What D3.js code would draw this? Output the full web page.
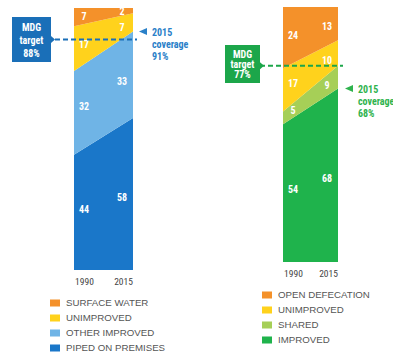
<!DOCTYPE html>
<html>
<head>
<meta charset="utf-8">
<script src="https://cdn.jsdelivr.net/npm/d3@7"></script>
<style>
  html, body { margin: 0; padding: 0; background: #fff; }
  svg { display: block; }
  .cond { font-family: "Liberation Sans Narrow", "Roboto Condensed", "Arial Narrow", "Liberation Sans", sans-serif; }
  .leg { font-family: "Liberation Sans", Arial, sans-serif; font-size: 9.7px; fill: #555; }
</style>
</head>
<body>
<svg id="chart" width="393" height="364"></svg>
<script>
// Years on the two bar edges
const years = ["1990", "2015"];

// Drinking water (percent of population)
const waterKeys = ["PIPED ON PREMISES", "OTHER IMPROVED", "UNIMPROVED", "SURFACE WATER"];
const waterColors = ["#1a77c9", "#6fb4e6", "#ffd21c", "#f4912a"];
const waterPiped = [44, 58];
const waterOther = [32, 33];
const waterUnimproved = [17, 7];
const waterSurface = [7, 2];
const waterTarget = 88;
const waterCoverage = 91;

// Sanitation (percent of population)
const sanKeys = ["IMPROVED", "SHARED", "UNIMPROVED", "OPEN DEFECATION"];
const sanColors = ["#1fb34c", "#a6cf57", "#ffd21c", "#f4912a"];
const sanImproved = [54, 68];
const sanShared = [5, 9];
const sanUnimproved = [17, 10];
const sanOpen = [24, 13];
const sanTarget = 77;
const sanCoverage = 68;

const svg = d3.select("#chart");

function drawPanel(cfg) {
  const g = svg.append("g");
  const rows = years.map((yr, i) => {
    const r = { year: yr };
    cfg.keys.forEach((k, j) => { r[k] = cfg.series[j][i]; });
    return r;
  });
  const stack = d3.stack().keys(cfg.keys)(rows);

  const x = d3.scalePoint().domain(years).range([cfg.x0, cfg.x1]);
  const y = d3.scaleLinear().domain([0, 100]).range([cfg.yBottom, cfg.yTop]);

  const area = d3.area()
    .x(d => x(d.data.year))
    .y0(d => y(d[0]))
    .y1(d => y(d[1]));

  g.selectAll("path.band").data(stack).join("path")
    .attr("class", "band")
    .attr("d", area)
    .attr("fill", (d, i) => cfg.colors[i]);

  // value labels, centred in each band at a fixed inset from the edges
  const inset = [cfg.x0 + 10, cfg.x1 - 11];
  stack.forEach(layer => {
    years.forEach((yr, i) => {
      const lx = inset[i];
      const t = (lx - cfg.x0) / (cfg.x1 - cfg.x0);
      const lo = layer[0][0] + (layer[1][0] - layer[0][0]) * t;
      const hi = layer[0][1] + (layer[1][1] - layer[0][1]) * t;
      g.append("text")
        .attr("class", "cond")
        .attr("x", lx)
        .attr("y", y((lo + hi) / 2))
        .attr("dy", "0.35em")
        .attr("text-anchor", "middle")
        .attr("font-size", 10)
        .attr("font-weight", "bold")
        .attr("fill", "#fff")
        .text(layer[i].data[layer.key]);
    });
  });

  // year labels
  const xa = d3.axisBottom(x).tickSize(0).tickPadding(0);
  const axisG = g.append("g")
    .attr("transform", `translate(0,${cfg.yearY})`)
    .call(xa);
  axisG.select(".domain").remove();
  axisG.selectAll(".tick text")
    .attr("class", "cond")
    .attr("font-size", 9.5)
    .attr("fill", "#444")
    .attr("dy", "0.35em")
    .attr("x", (d, i) => i === 0 ? 10 : -10);

  // MDG target line
  const ty = y(cfg.target);
  g.append("line")
    .attr("x1", cfg.dashX0).attr("x2", cfg.dashX1)
    .attr("y1", ty).attr("y2", ty)
    .attr("stroke", cfg.dark)
    .attr("stroke-width", 2)
    .attr("stroke-dasharray", "5,3");

  // MDG target box with pointer
  const b = cfg.box;
  g.append("rect")
    .attr("x", b.x).attr("y", b.y).attr("width", b.w).attr("height", b.h)
    .attr("fill", cfg.dark);
  g.append("path")
    .attr("d", `M${b.x + b.w},${ty - 3.5} L${b.x + b.w + 4},${ty} L${b.x + b.w},${ty + 3.5} Z`)
    .attr("fill", cfg.dark);
  ["MDG", "target", cfg.target + "%"].forEach((s, i) => {
    g.append("text")
      .attr("class", "cond")
      .attr("x", b.x + b.w / 2)
      .attr("y", b.ly[i])
      .attr("dy", "0.35em")
      .attr("text-anchor", "middle")
      .attr("font-size", 10)
      .attr("font-weight", "bold")
      .attr("fill", "#fff")
      .text(s);
  });

  // 2015 coverage marker
  const cy = y(cfg.coverage);
  const ax = cfg.arrowX;
  g.append("path")
    .attr("d", `M${ax},${cy} L${ax + 8},${cy - 3.5} L${ax + 8},${cy + 3.5} Z`)
    .attr("fill", cfg.accent);
  ["2015", "coverage", cfg.coverage + "%"].forEach((s, i) => {
    g.append("text")
      .attr("class", "cond")
      .attr("x", ax + 13)
      .attr("y", cy + 1 + i * 12)
      .attr("dy", "0.35em")
      .attr("font-size", 10)
      .attr("font-weight", "bold")
      .attr("fill", cfg.accent)
      .text(s);
  });

  // legend, top row is the top band
  const legendItems = cfg.keys.map((k, i) => ({ k, c: cfg.colors[i] })).reverse();
  const lg = g.selectAll("g.leg").data(legendItems).join("g")
    .attr("class", "leg")
    .attr("transform", (d, i) => `translate(${cfg.legX},${cfg.legY + i * cfg.legStep})`);
  lg.append("rect")
    .attr("x", 0).attr("y", -3.5).attr("width", 10).attr("height", 7)
    .attr("fill", d => d.c);
  lg.append("text")
    .attr("x", 16).attr("y", 0).attr("dy", "0.35em")
    .attr("class", "leg")
    .text(d => d.k);
}

drawPanel({
  keys: waterKeys, colors: waterColors,
  series: [waterPiped, waterOther, waterUnimproved, waterSurface],
  x0: 74, x1: 133, yTop: 8, yBottom: 270, yearY: 282,
  target: waterTarget, coverage: waterCoverage,
  dark: "#1a6fb8", accent: "#2a80c8",
  dashX0: 55, dashX1: 137,
  box: { x: 12, y: 17, w: 39, h: 45, ly: [27, 40, 53] },
  arrowX: 139,
  legX: 50, legY: 303, legStep: 15
});

drawPanel({
  keys: sanKeys, colors: sanColors,
  series: [sanImproved, sanShared, sanUnimproved, sanOpen],
  x0: 283, x1: 338, yTop: 7, yBottom: 262, yearY: 274,
  target: sanTarget, coverage: sanCoverage,
  dark: "#1ca64a", accent: "#2fb34e",
  dashX0: 260, dashX1: 343,
  box: { x: 225, y: 45, w: 35, h: 38, ly: [54, 64, 74] },
  arrowX: 345,
  legX: 262, legY: 295, legStep: 15
});
</script>
</body>
</html>
